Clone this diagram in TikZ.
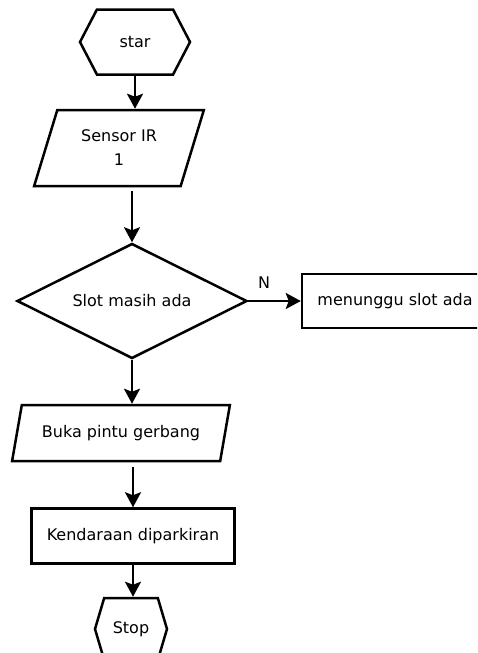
\documentclass[tikz,border=0pt]{standalone}
\usepackage{fontspec}
\setmainfont{DejaVu Sans}
\usetikzlibrary{shapes.geometric,shapes.symbols,arrows.meta}
\tikzstyle{terminal} = [signal, signal to=west and east, text centered, draw=black]
\tikzstyle{io} = [trapezium, trapezium left angle=70, trapezium right angle=110, trapezium stretches=true, text centered, draw=black]
\tikzstyle{process} = [rectangle, text centered, draw=black]
\tikzstyle{decision} = [diamond, shape aspect=2, inner sep=1pt, text centered, draw=black]
\tikzstyle{arrow} = [-{Stealth[length=15pt,width=16pt,inset=3pt]}]

\begin{document}
\begin{tikzpicture}[x=1pt, y=-1pt, line width=2.5pt, font=\fontsize{16}{24}\selectfont]
	\useasboundingbox (0,0) rectangle (477,653);
	\clip (0,0) rectangle (477,653);
	\node (start) [terminal, signal pointer angle=125, minimum width=110pt, minimum height=65pt] at (135,42) {star};
	\node (sensor) [io, align=center, minimum width=170pt, minimum height=76pt] at (119,148) {Sensor IR\\1};
	\node (dec) [decision, minimum width=230pt, minimum height=115pt] at (132,301) {Slot masih ada};
	\node (wait) [process, minimum width=186pt, minimum height=54pt] at (395,301) {menunggu slot ada};
	\node (buka) [io, minimum width=218pt, minimum height=56pt] at (121,433) {Buka pintu gerbang};
	\node (kend) [process, minimum width=203pt, minimum height=55pt] at (133,536) {Kendaraan diparkiran};
	\node (stop) [terminal, signal pointer angle=147, minimum width=72pt, minimum height=62pt] at (131,629) {Stop};
	%lines
	\draw [arrow] (start.south) -- (start.south |- sensor.north);
	\draw [arrow, shorten <=4pt] (dec.north |- sensor.south) -- (dec.north);
	\draw [arrow] (dec.east) -- node[above=8pt, pos=0.3] {N} (wait.west);
	\draw [arrow] (dec.south) -- (dec.south |- buka.north);
	\draw [arrow, shorten <=5pt] (kend.north |- buka.south) -- (kend.north);
	\draw [arrow] (kend.south) -- (kend.south |- stop.north);
\end{tikzpicture}
\end{document}
